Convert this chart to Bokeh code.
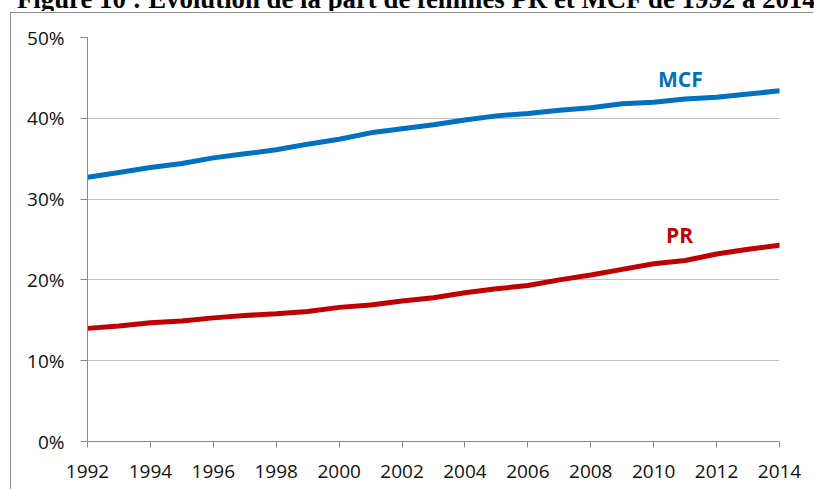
from bokeh.plotting import figure
from bokeh.models import (FixedTicker, PrintfTickFormatter, Label, Range1d, Div)
from bokeh.layouts import column
from bokeh.embed import file_html
from bokeh.resources import INLINE

years = list(range(1992, 2015))
mcf = [32.7, 33.3, 33.9, 34.4, 35.1, 35.6, 36.1, 36.8, 37.4, 38.2, 38.7, 39.2,
       39.8, 40.3, 40.6, 41.0, 41.3, 41.8, 42.0, 42.4, 42.6, 43.0, 43.4]
pr = [14.0, 14.3, 14.7, 14.9, 15.3, 15.6, 15.8, 16.1, 16.6, 16.9, 17.4, 17.8,
      18.4, 18.9, 19.3, 20.0, 20.6, 21.3, 22.0, 22.4, 23.2, 23.8, 24.3]
x_ticks = list(range(1992, 2015, 2))
y_ticks = [0, 10, 20, 30, 40, 50]
title_text = "Figure 10 : Évolution de la part de femmes PR et MCF de 1992 à 2014"
series_names = ["MCF", "PR"]

# title: only its lower part is visible at the top of the page
title = Div(text='<div style="font: bold 26.8px/23px \'Liberation Serif\'; '
                 'white-space: nowrap; color: black;">' + title_text + '</div>',
            width=797, height=23, margin=(-12, 0, 0, 17),
            styles={"overflow": "hidden"})

p = figure(width=803, height=477, output_backend="svg", toolbar_location=None,
           x_range=Range1d(1992, 2014), y_range=Range1d(0, 50),
           min_border_left=76, min_border_right=35, min_border_top=24, min_border_bottom=49)
p.margin = (1, 0, 0, 10)
p.styles = {"border-left": "1px solid #8c8c8c", "border-top": "1px solid #8c8c8c"}
p.outline_line_color = None
p.background_fill_color = "white"
p.border_fill_color = "white"

p.xgrid.grid_line_color = None
p.ygrid.grid_line_color = "#C0C0C0"
p.ygrid.grid_line_width = 1
p.ygrid.ticker = FixedTicker(ticks=y_ticks)

for ax in (p.xaxis[0], p.yaxis[0]):
    ax.axis_line_color = "#888888"
    ax.major_tick_line_color = "#888888"
    ax.minor_tick_line_color = None
    ax.major_tick_in = 0
    ax.major_label_text_font = "Open Sans"
    ax.major_label_text_font_size = "19px"
    ax.major_label_text_color = "#111111"

p.xaxis.ticker = FixedTicker(ticks=x_ticks)
p.xaxis.major_tick_out = 6
p.xaxis.major_label_standoff = 17
p.yaxis.ticker = FixedTicker(ticks=y_ticks)
p.yaxis.formatter = PrintfTickFormatter(format="%d%%")
p.yaxis.major_tick_out = 7
p.yaxis.major_label_standoff = 16

p.line(years, mcf, line_color="#0070C0", line_width=5, line_join="round", line_cap="round")
p.line(years, pr, line_color="#C00000", line_width=5, line_join="round", line_cap="round")

p.add_layout(Label(x=2010.85, y=(441 - 78.5) / 8.08, text=series_names[0],
                   text_font="Open Sans", text_font_style="bold", text_font_size="21px",
                   text_color="#0070C0", text_align="center", text_baseline="middle"))
p.add_layout(Label(x=2010.82, y=(441 - 234) / 8.08, text=series_names[1],
                   text_font="Open Sans", text_font_style="bold", text_font_size="21px",
                   text_color="#C00000", text_align="center", text_baseline="middle"))

layout = column(title, p, spacing=0)
open("out.html", "w").write(file_html(layout, INLINE))
